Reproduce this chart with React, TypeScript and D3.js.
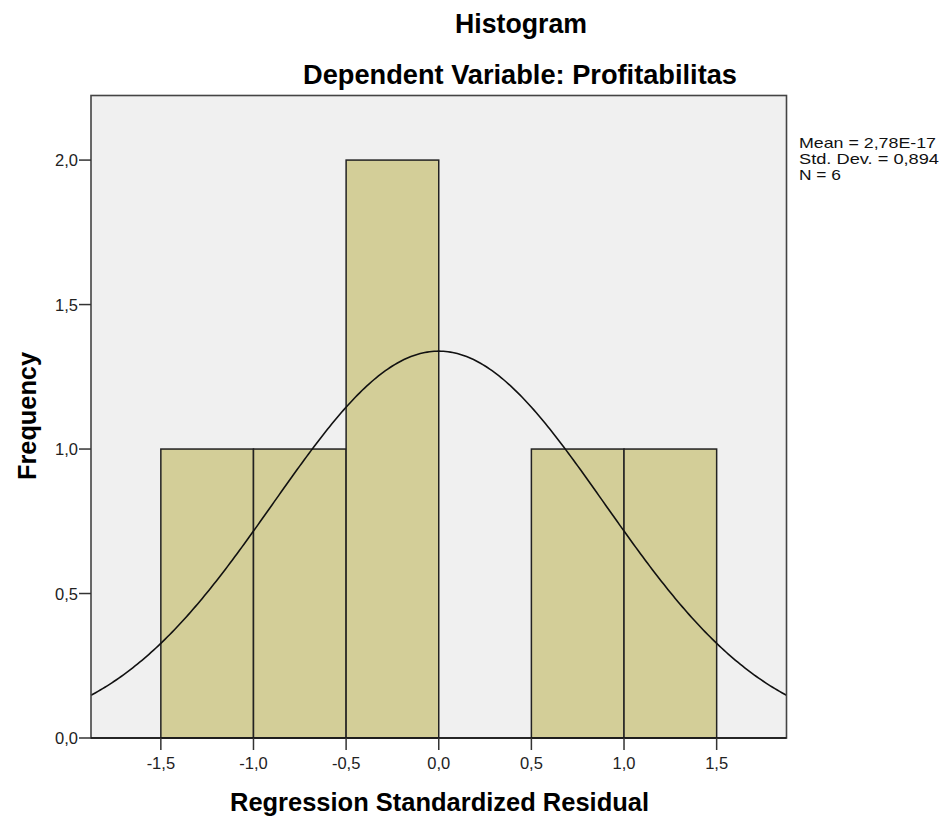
import React from "react";
import * as d3 from "d3";

const binEdges = [-1.5, -1.0, -0.5, 0.0, 0.5, 1.0, 1.5];
const binCounts = [1, 1, 2, 0, 1, 1];
const xTicks = [-1.5, -1.0, -0.5, 0.0, 0.5, 1.0, 1.5];
const yTicks = [0.0, 0.5, 1.0, 1.5, 2.0];
const stats = ["Mean = 2,78E-17", "Std. Dev. = 0,894", "N = 6"];
const statWidths = [137, 140, 42];
const meanVal = 2.78e-17;
const sdVal = 0.894;
const nVal = 6;

const fmt = (v: number) => d3.format(".1f")(v).replace(".", ",").replace("−", "-");

export default function App() {
  const W = 944, H = 818;
  const left = 91, right = 786.5, top = 95.5, bottom = 738;
  const x = d3.scaleLinear().domain([-1.877, 1.877]).range([left, right]);
  const y = d3.scaleLinear().domain([0, 2.2235]).range([bottom, top]);
  const bw = 0.5;
  const pts = d3.range(0, 301).map((i) => {
    const xv = -1.877 + (3.754 * i) / 300;
    const pdf = Math.exp(-0.5 * ((xv - meanVal) / sdVal) ** 2) / (sdVal * Math.sqrt(2 * Math.PI));
    return [xv, nVal * bw * pdf] as [number, number];
  });
  const line = d3.line<[number, number]>().x((d) => x(d[0])).y((d) => y(d[1]));
  const font = "'Liberation Sans', Arial, sans-serif";
  return (
    <svg width={W} height={H} style={{ position: "absolute", left: 0, top: 0 }} fontFamily={font}>
      <rect x={0} y={0} width={W} height={H} fill="#fff" />
      <text x={521} y={33} textAnchor="middle" fontSize={27} fontWeight="bold" textLength={132} lengthAdjust="spacingAndGlyphs">Histogram</text>
      <text x={520} y={84} textAnchor="middle" fontSize={27} fontWeight="bold" textLength={434} lengthAdjust="spacingAndGlyphs">Dependent Variable: Profitabilitas</text>
      <rect x={left} y={top} width={right - left} height={bottom - top} fill="#f0f0f0" />
      {binCounts.map((c, i) =>
        c > 0 ? (
          <rect key={i} x={x(binEdges[i])} y={y(c)} width={x(binEdges[i + 1]) - x(binEdges[i])} height={y(0) - y(c)}
            fill="#d3ce98" stroke="#222" strokeWidth={1.5} />
        ) : null
      )}
      <path d={line(pts) || ""} fill="none" stroke="#111" strokeWidth={1.6} />
      <rect x={left} y={top} width={right - left} height={bottom - top} fill="none" stroke="#444" strokeWidth={1.6} />
      <line x1={left} x2={right} y1={bottom} y2={bottom} stroke="#111" strokeWidth={1.6} />
      {yTicks.map((t) => (
        <g key={t}>
          <line x1={left - 12} x2={left} y1={y(t)} y2={y(t)} stroke="#333" strokeWidth={1.5} />
          <text x={left - 13} y={y(t) + 6} textAnchor="end" fontSize={16.5} fill="#222">{fmt(t)}</text>
        </g>
      ))}
      {xTicks.map((t) => (
        <g key={t}>
          <line x1={x(t)} x2={x(t)} y1={bottom} y2={bottom + 12} stroke="#333" strokeWidth={1.5} />
          <text x={x(t)} y={bottom + 31} textAnchor="middle" fontSize={16.5} fill="#222">{fmt(t)}</text>
        </g>
      ))}
      <text x={439.5} y={811} textAnchor="middle" fontSize={25} fontWeight="bold" textLength={419} lengthAdjust="spacingAndGlyphs">Regression Standardized Residual</text>
      <text transform={`translate(36,${416}) rotate(-90)`} textAnchor="middle" fontSize={25} fontWeight="bold" textLength={128} lengthAdjust="spacingAndGlyphs">Frequency</text>
      {stats.map((s, i) => (
        <text key={i} x={799} y={148 + i * 16} fontSize={15} fill="#111" textLength={statWidths[i]} lengthAdjust="spacingAndGlyphs">{s}</text>
      ))}
    </svg>
  );
}
